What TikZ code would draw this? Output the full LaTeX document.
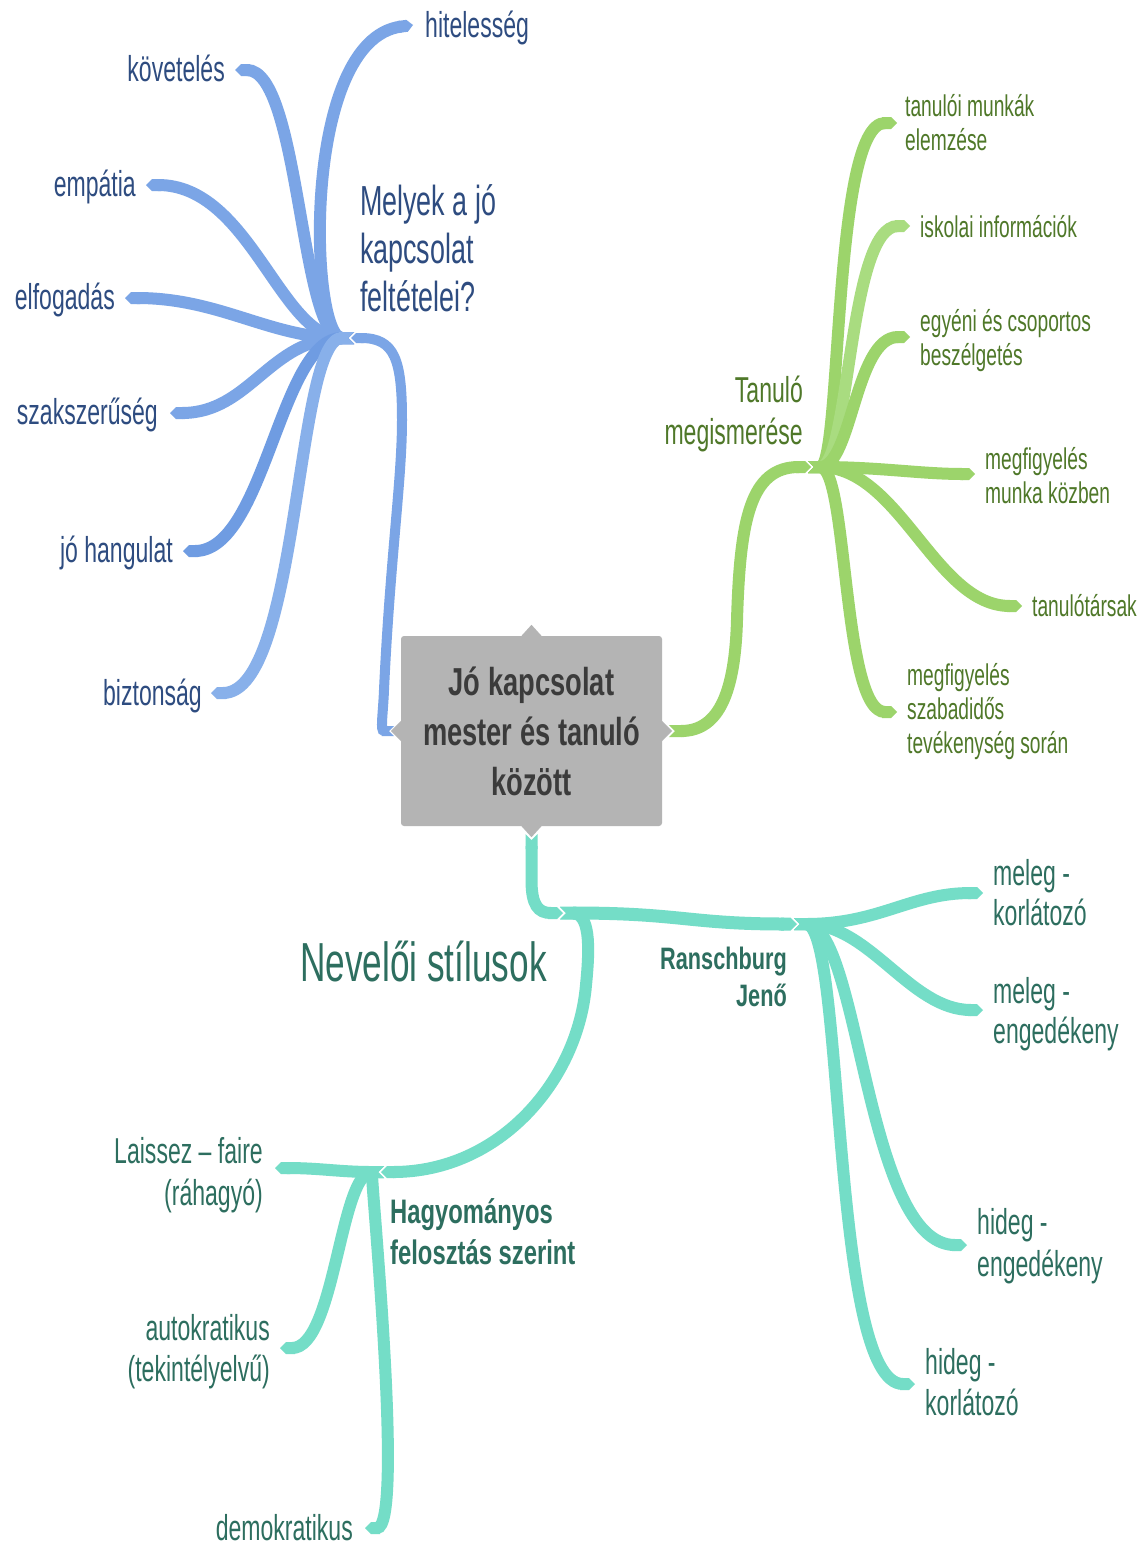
\documentclass[tikz,border=0pt]{standalone}
\usepackage{fontspec}
\setmainfont[FakeStretch=0.64]{Liberation Sans}
\newfontfamily\headfont[FakeStretch=0.70]{Liberation Sans}
\usetikzlibrary{arrows.meta,calc}

\definecolor{boxgray}{HTML}{B4B4B4}
\definecolor{rootink}{HTML}{3B3B3B}
\definecolor{blueline}{HTML}{7BA5E6}
\definecolor{bluedeep}{HTML}{6F9CE2}
\definecolor{bluepale}{HTML}{88B0EA}
\definecolor{blueink}{HTML}{2E4C80}
\definecolor{greenline}{HTML}{9CD46B}
\definecolor{greenpale}{HTML}{A9DC80}
\definecolor{greenink}{HTML}{4F7829}
\definecolor{tealline}{HTML}{74DDC7}
\definecolor{tealink}{HTML}{2D6E5F}

\newcommand\setfs[2]{\fontsize{#1}{#2}\selectfont}

\tikzset{
  branch/.style={line width=12pt, {Triangle Cap[reversed]}-{Triangle Cap}},
  trunk/.style={line width=12pt, {Triangle Cap[reversed]}-{Triangle Cap}},
  bluetxt/.style={text=blueink, inner sep=0pt, font=\setfs{36}{42}},
  greentxt/.style={text=greenink, inner sep=0pt, font=\setfs{30}{34}, align=left},
  tealtxt/.style={text=tealink, inner sep=0pt, font=\setfs{36}{41}},
}

\begin{document}
\begin{tikzpicture}[x=1pt,y=-1pt]
\useasboundingbox (0,0) rectangle (1144,1547);
\fill[white] (0,0) rectangle (1144,1547);

% ---------- central topic ----------
\node (root) [fill=boxgray, rounded corners=3pt, minimum width=261pt, minimum height=190pt,
  inner sep=0pt, align=center, text=rootink, font=\headfont\bfseries\setfs{39}{50}]
  at (531.5,731) {Jó kapcsolat\\mester és tanuló\\között};
\fill[boxgray] ($(root.north)+(-10,0)$) -- ++(10,-11) -- ++(10,11) -- cycle;
\fill[boxgray] ($(root.south)+(-10,0)$) -- ++(10,11) -- ++(10,-11) -- cycle;
\fill[boxgray] ($(root.west)+(0,-10)$) -- ++(-10,10) -- ++(10,10) -- cycle;
\fill[boxgray] ($(root.east)+(0,-10)$) -- ++(10,10) -- ++(-10,10) -- cycle;

% ---------- hubs and leaf ends ----------
\coordinate (bstart) at (394,731);
\coordinate (bhubin) at (351,338);
\coordinate (bhub) at (354,338);
\coordinate (gstart) at (669,731);
\coordinate (ghubin) at (811,467);
\coordinate (ghub) at (808,467);
\coordinate (tstart) at (531.5,834);
\coordinate (nhubin) at (563,913);
\coordinate (nhub) at (560,913);
\coordinate (rhubin) at (797,924);
\coordinate (rhub) at (794,924);
\coordinate (hhubin) at (381,1172);
\coordinate (hhub) at (384,1172);

\coordinate (e-hit) at (413,25);
\coordinate (e-kov) at (235,70);
\coordinate (e-emp) at (146,185);
\coordinate (e-elf) at (125,298);
\coordinate (e-szak) at (170,413);
\coordinate (e-jo) at (183,551);
\coordinate (e-bizt) at (211,693);

\coordinate (e-tan) at (897,123);
\coordinate (e-isk) at (910,226);
\coordinate (e-egy) at (910,337);
\coordinate (e-mmk) at (975,474);
\coordinate (e-tars) at (1022,606);
\coordinate (e-szab) at (897,712);

\coordinate (e-mk) at (983,893);
\coordinate (e-me) at (983,1010);
\coordinate (e-he) at (967,1245);
\coordinate (e-hk) at (915,1384);
\coordinate (e-lf) at (275,1168);
\coordinate (e-aut) at (280,1348);
\coordinate (e-dem) at (365,1528);

% ---------- blue branch ----------
\begin{scope}[draw=blueline]
\draw[branch] (bhub) .. controls (310,338) and (300,40) .. (e-hit);
\draw[branch] (bhub) .. controls (300,338) and (300,70) .. (e-kov);
\draw[branch] (bhub) .. controls (280,338) and (250,185) .. (e-emp);
\draw[branch] (bhub) .. controls (270,338) and (220,298) .. (e-elf);
\draw[branch] (bhub) .. controls (270,338) and (250,413) .. (e-szak);
\draw[branch, draw=bluedeep] (bhub) .. controls (280,338) and (265,551) .. (e-jo);
\draw[branch, draw=bluepale] (bhub) .. controls (295,338) and (300,693) .. (e-bizt);
\draw[trunk, line width=10pt] (bstart) .. controls (380,731) and (383,715) .. (384,690)
  .. controls (390,560) and (402,480) .. (402,420)
  .. controls (402,360) and (395,338) .. (bhubin);
\end{scope}

\node[bluetxt, anchor=north west, align=left, font=\setfs{42}{48}] (q) at (360,184)
  {Melyek a jó\\kapcsolat\\feltételei?};
\node[bluetxt, anchor=base west] (hit) at (425,37) {hitelesség};
\node[bluetxt, anchor=base east] (kov) at (225,81) {követelés};
\node[bluetxt, anchor=base east] (emp) at (136,196) {empátia};
\node[bluetxt, anchor=base east] (elf) at (115,309) {elfogadás};
\node[bluetxt, anchor=base east] (szak) at (158,424) {szakszerűség};
\node[bluetxt, anchor=base east] (jo) at (173,562) {jó hangulat};
\node[bluetxt, anchor=base east] (bizt) at (202,705) {biztonság};

% ---------- green branch ----------
\begin{scope}[draw=greenline]
\draw[branch] (ghub) .. controls (842,467) and (832,123) .. (e-tan);
\draw[branch, draw=greenpale] (ghub) .. controls (850,467) and (848,226) .. (e-isk);
\draw[branch] (ghub) .. controls (852,467) and (855,337) .. (e-egy);
\draw[branch] (ghub) .. controls (880,467) and (920,474) .. (e-mmk);
\draw[branch] (ghub) .. controls (900,467) and (935,606) .. (e-tars);
\draw[branch] (ghub) .. controls (848,467) and (842,712) .. (e-szab);
\draw[trunk] (gstart) .. controls (720,731) and (735,690) .. (737,620)
  .. controls (740,520) and (750,467) .. (ghubin);
\end{scope}

\node[greentxt, anchor=north east, align=right, font=\setfs{36}{42}] (tm) at (803,376)
  {Tanuló\\megismerése};
\node[greentxt, anchor=north west] (tan) at (905,94) {tanulói munkák\\elemzése};
\node[greentxt, anchor=north west] (isk) at (920,215) {iskolai információk};
\node[greentxt, anchor=north west] (egy) at (920,309) {egyéni és csoportos\\beszélgetés};
\node[greentxt, anchor=north west] (mmk) at (985,447) {megfigyelés\\munka közben};
\node[greentxt, anchor=north west] (tars) at (1032,594) {tanulótársak};
\node[greentxt, anchor=north west] (szab) at (907,663) {megfigyelés\\szabadidős\\tevékenység során};

% ---------- teal branch ----------
\begin{scope}[draw=tealline]
\draw[branch] (rhub) .. controls (880,924) and (910,893) .. (e-mk);
\draw[branch] (rhub) .. controls (870,924) and (910,1010) .. (e-me);
\draw[branch] (rhub) .. controls (860,924) and (865,1245) .. (e-he);
\draw[branch] (rhub) .. controls (845,924) and (830,1384) .. (e-hk);
\draw[branch] (hhub) .. controls (340,1172) and (320,1168) .. (e-lf);
\draw[branch] (hhub) .. controls (340,1172) and (335,1348) .. (e-aut);
\draw[branch] (hhub) .. controls (370,1172) and (405,1528) .. (e-dem);
\draw[trunk, line width=13pt] (nhub) .. controls (680,913) and (690,924) .. (rhubin);
\draw[trunk] (nhub) .. controls (590,913) and (590,945) .. (586,985)
  .. controls (578,1080) and (500,1172) .. (hhubin);
\draw[trunk] (tstart) -- (531.5,880) .. controls (531.5,905) and (538,913) .. (nhubin);
\end{scope}

\node[tealtxt, anchor=north west, font=\setfs{55}{60}] (nev) at (300,941) {Nevelői stílusok};
\node[tealtxt, anchor=north east, align=right, font=\headfont\bfseries\setfs{31}{37}] (ran) at (787,947)
  {Ranschburg\\Jenő};
\node[tealtxt, anchor=north west, align=left, font=\headfont\bfseries\setfs{34}{41}] (hag) at (390,1198)
  {Hagyományos\\felosztás szerint};
\node[tealtxt, anchor=north west, align=left, font=\setfs{36}{40}] (mk) at (993,859) {meleg -\\korlátozó};
\node[tealtxt, anchor=north west, align=left, font=\setfs{36}{40}] (me) at (993,977) {meleg -\\engedékeny};
\node[tealtxt, anchor=north west, align=left, font=\setfs{36}{42}] (he) at (977,1208) {hideg -\\engedékeny};
\node[tealtxt, anchor=north west, align=left, font=\setfs{36}{41}] (hk) at (925,1348) {hideg -\\korlátozó};
\node[tealtxt, anchor=north east, align=right, font=\setfs{36}{42}] (lf) at (263,1137) {Laissez – faire\\(ráhagyó)};
\node[tealtxt, anchor=north east, align=right, font=\setfs{36}{41}] (aut) at (270,1314) {autokratikus\\(tekintélyelvű)};
\node[tealtxt, anchor=north east] (dem) at (353,1514) {demokratikus};
\end{tikzpicture}
\end{document}
